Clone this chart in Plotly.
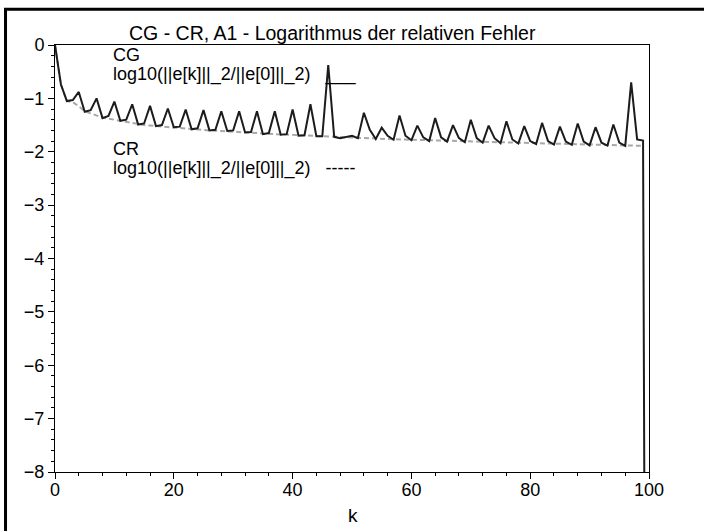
import plotly.graph_objects as go

# Iteration index k
k_cg = list(range(0, 101))
k_cr = list(range(0, 100))

# CG: log10(||e[k]||_2 / ||e[0]||_2)
cg_log_err = [
    0.0, -0.74, -1.05, -1.03, -0.88, -1.25, -1.22, -1.00, -1.37, -1.33,
    -1.06, -1.42, -1.40, -1.11, -1.49, -1.47, -1.14, -1.52, -1.50, -1.19,
    -1.54, -1.53, -1.21, -1.58, -1.56, -1.22, -1.60, -1.59, -1.24, -1.61,
    -1.60, -1.24, -1.64, -1.63, -1.24, -1.67, -1.65, -1.24, -1.68, -1.67,
    -1.21, -1.70, -1.69, -1.11, -1.71, -1.71, -0.375, -1.72, -1.745, -1.72,
    -1.70, -1.745, -1.27, -1.59, -1.76, -1.55, -1.70, -1.775, -1.32, -1.70,
    -1.785, -1.51, -1.73, -1.80, -1.37, -1.73, -1.81, -1.50, -1.745, -1.82,
    -1.40, -1.745, -1.83, -1.51, -1.745, -1.84, -1.43, -1.77, -1.845, -1.52,
    -1.80, -1.855, -1.46, -1.80, -1.865, -1.53, -1.81, -1.87, -1.47, -1.81,
    -1.88, -1.54, -1.83, -1.885, -1.49, -1.83, -1.89, -0.70, -1.77, -1.79,
    -32.0,
]

# CR: log10(||e[k]||_2 / ||e[0]||_2)
cr_log_err = [
    0.0, -0.74, -1.05, -1.07, -1.15, -1.24, -1.28, -1.32, -1.36, -1.38,
    -1.40, -1.42, -1.44, -1.465, -1.485, -1.50, -1.51, -1.52, -1.53, -1.54,
    -1.55, -1.56, -1.57, -1.58, -1.585, -1.59, -1.60, -1.605, -1.61, -1.62,
    -1.625, -1.63, -1.64, -1.645, -1.65, -1.66, -1.665, -1.67, -1.68, -1.685,
    -1.69, -1.700, -1.705, -1.710, -1.715, -1.719, -1.723, -1.727, -1.731, -1.735,
    -1.739, -1.743, -1.747, -1.751, -1.755, -1.758, -1.762, -1.765, -1.769, -1.772,
    -1.776, -1.779, -1.782, -1.786, -1.789, -1.792, -1.795, -1.798, -1.801, -1.804,
    -1.807, -1.810, -1.813, -1.816, -1.819, -1.822, -1.825, -1.828, -1.831, -1.834,
    -1.837, -1.840, -1.843, -1.846, -1.849, -1.852, -1.855, -1.858, -1.861, -1.864,
    -1.867, -1.870, -1.872, -1.875, -1.877, -1.880, -1.882, -1.885, -1.887, -1.890,
]

x_ticks = [0, 20, 40, 60, 80, 100]
y_ticks = [0, -1, -2, -3, -4, -5, -6, -7, -8]

title_text = "CG - CR, A1 - Logarithmus der relativen Fehler"
cg_name = "CG"
cr_name = "CR"
cg_formula = "log10(||e[k]||_2/||e[0]||_2)\u00a0\u00a0\u00a0___"
cr_formula = "log10(||e[k]||_2/||e[0]||_2)\u00a0\u00a0\u00a0-----"
x_title = "k"

FONT = "Liberation Sans, Arial, sans-serif"

fig = go.Figure()
fig.add_trace(go.Scatter(
    x=k_cr, y=cr_log_err, mode="lines",
    line=dict(color="#a8a8a8", width=2, dash="5px,3px"),
))
fig.add_trace(go.Scatter(
    x=k_cg, y=cg_log_err, mode="lines",
    line=dict(color="#1c1c1c", width=2),
))

axis_common = dict(
    showline=True, linecolor="black", linewidth=1, mirror=True,
    showgrid=False, zeroline=False,
    ticks="outside", ticklen=6, tickwidth=1, tickcolor="black",
    tickfont=dict(family=FONT, size=18, color="black"),
)

fig.update_xaxes(
    range=[0, 100], tickvals=x_ticks, ticklabelstandoff=-5,
    minor=dict(dtick=4, ticks="outside", ticklen=3, tickcolor="black"),
    **axis_common,
)
fig.update_yaxes(
    range=[-8, 0], tickvals=y_ticks,
    minor=dict(dtick=0.2, ticks="outside", ticklen=3, tickcolor="black"),
    **axis_common,
)

def txt(text, x, y, size, xanchor="left"):
    return dict(
        text=text, x=x, y=y, xref="paper", yref="paper",
        xanchor=xanchor, yanchor="middle", showarrow=False,
        font=dict(family=FONT, size=size, color="black"),
    )

fig.update_layout(
    width=704, height=531,
    margin=dict(l=55, r=55, t=45, b=59),
    paper_bgcolor="white", plot_bgcolor="white",
    showlegend=False,
    annotations=[
        txt(title_text, 0.4672, 1.0272, 19.5, "center"),
        txt(cg_name, 0.0938, 0.9777, 18),
        txt(cg_formula, 0.0938, 0.9309, 18),
        txt(cr_name, 0.0938, 0.7576, 18),
        txt(cr_formula, 0.0938, 0.7108, 18),
        txt(x_title, 0.5017, -0.1023, 19, "center"),
    ],
    shapes=[
        dict(type="rect", xref="paper", yref="paper",
             x0=-0.0833, x1=1.2, y0=-0.3, y1=1.0836,
             line=dict(color="black", width=3)),
    ],
)

fig.write_html("out.html")
